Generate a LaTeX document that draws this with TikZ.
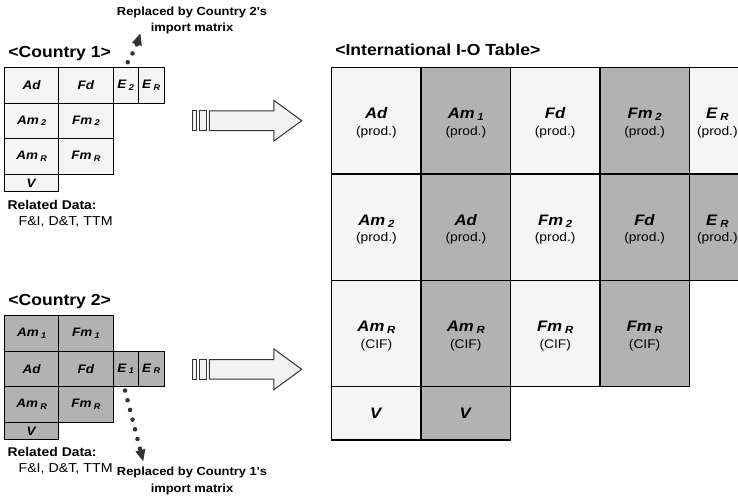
\documentclass[tikz,border=0pt]{standalone}
\usepackage{fontspec}
\setmainfont{Liberation Sans}[FakeStretch=1.1,Ligatures=TeXOff]
\usepackage{tikz}
\usetikzlibrary{arrows.meta}

\definecolor{cellpale}{RGB}{245,245,245}
\definecolor{cellgray}{RGB}{178,178,178}
\definecolor{arrowfill}{RGB}{242,242,242}

\newcommand{\iolbl}[2]{\textbf{\textit{#1}}\ifx\relax#2\relax\else\kern0.18em\raisebox{-0.25ex}{\fontsize{\the\dimexpr0.68em\relax}{0pt}\selectfont\textbf{\textit{#2}}}\fi}
\newcommand{\ionote}[1]{{\fontsize{9.4}{10}\selectfont #1}}

\begin{document}
\begin{tikzpicture}[x=0.75pt,y=0.75pt,yscale=-1,xscale=1,
  smallcell/.style={draw, line width=0.75pt, inner sep=0pt, minimum width=40.69pt, minimum height=26.625pt, font=\fontsize{9.2}{10}\selectfont},
  ecell/.style={smallcell, minimum width=19.125pt},
  vcell/.style={smallcell, minimum height=13.125pt},
  bigcell/.style={draw, line width=1pt, inner sep=0pt, align=center, minimum width=67.05pt, minimum height=79.725pt, font=\fontsize{11.4}{12.4}\selectfont},
  lastcell/.style={bigcell, minimum width=42pt},
  bigvcell/.style={bigcell, minimum height=39.975pt},
  heading/.style={anchor=base west, inner sep=0pt, font=\fontsize{12}{14}\selectfont\bfseries},
  reltitle/.style={anchor=base west, inner sep=0pt, font=\fontsize{9.5}{11}\selectfont\bfseries},
  relitems/.style={anchor=base west, inner sep=0pt, font=\fontsize{9.7}{11}\selectfont},
  replnote/.style={anchor=north, inner sep=0pt, align=center, font=\fontsize{8.8}{12.4}\selectfont\bfseries},
  dotline/.style={color=black!80, line width=3.4pt, line cap=round, dash pattern=on 0pt off 7.5pt, -{Triangle[length=9pt,width=7pt]}},
  blockarrow/.style={draw=black!80, fill=arrowfill, line width=0.75pt}]
\useasboundingbox (0,0) rectangle (738,500);
\clip (0,0) rectangle (738,500);

% Text Node
\draw (8,57.7) node [heading] (c1title) {<Country 1>};
% Text Node
\draw (8,305.5) node [heading] (c2title) {<Country 2>};
% Text Node
\draw (335,55.7) node [heading] (iotitle) {<International I-O Table>};

%Shape: Country 1 table
\draw (31.625,85.45) node [smallcell, fill=cellpale] (c1ad) {\iolbl{Ad}{}};
\draw (85.875,85.45) node [smallcell, fill=cellpale] (c1fd) {\iolbl{Fd}{}};
\draw (125.75,85.45) node [ecell, fill=cellpale] (c1e2) {\iolbl{E}{2}};
\draw (151.25,85.45) node [ecell, fill=cellpale] (c1er) {\iolbl{E}{R}};
\draw (31.625,120.95) node [smallcell, fill=cellpale] (c1am2) {\iolbl{Am}{2}};
\draw (85.875,120.95) node [smallcell, fill=cellpale] (c1fm2) {\iolbl{Fm}{2}};
\draw (31.625,156.45) node [smallcell, fill=cellpale] (c1amr) {\iolbl{Am}{R}};
\draw (85.875,156.45) node [smallcell, fill=cellpale] (c1fmr) {\iolbl{Fm}{R}};
\draw (31.625,182.95) node [vcell, fill=cellpale] (c1v) {\iolbl{V}{}};

%Shape: Country 2 table
\draw (31.625,333.45) node [smallcell, fill=cellgray] (c2am1) {\iolbl{Am}{1}};
\draw (85.875,333.45) node [smallcell, fill=cellgray] (c2fm1) {\iolbl{Fm}{1}};
\draw (31.625,368.95) node [smallcell, fill=cellgray] (c2ad) {\iolbl{Ad}{}};
\draw (85.875,368.95) node [smallcell, fill=cellgray] (c2fd) {\iolbl{Fd}{}};
\draw (125.75,368.95) node [ecell, fill=cellgray] (c2e1) {\iolbl{E}{1}};
\draw (151.25,368.95) node [ecell, fill=cellgray] (c2er) {\iolbl{E}{R}};
\draw (31.625,404.45) node [smallcell, fill=cellgray] (c2amr) {\iolbl{Am}{R}};
\draw (85.875,404.45) node [smallcell, fill=cellgray] (c2fmr) {\iolbl{Fm}{R}};
\draw (31.625,430.95) node [vcell, fill=cellgray] (c2v) {\iolbl{V}{}};

% Text Node
\draw (7.3,209) node [reltitle] (c1rel) {Related Data:};
\draw (18.3,225) node [relitems] (c1data) {F\&I, D\&T, TTM};
% Text Node
\draw (7.3,456) node [reltitle] (c2rel) {Related Data:};
\draw (18.3,472) node [relitems] (c2data) {F\&I, D\&T, TTM};

% Text Node
\draw (192,6.5) node [replnote] (c1repl) {Replaced by Country 2's\\import matrix};
% Text Node
\draw (192,467) node [replnote] (c2repl) {Replaced by Country 1's\\import matrix};

%Curve Lines: dotted pointers
\coordinate (c1tip) at (140.5,33);
\coordinate (c2tip) at (143.3,461.7);
\draw [dotline] ([xshift=1.5pt,yshift=-3.75pt]c1e2.north) to[bend left=6] (c1tip);
\draw [dotline] ([xshift=-0.5pt,yshift=2.5pt]c2e1.south) -- (c2tip);

%Shape: block arrows
\draw [blockarrow] (192.3,110.9) rectangle (196,130.5);
\draw [blockarrow] (199,110.9) rectangle (206,130.5);
\draw [blockarrow] (209.3,110.9) -- (273.8,110.9) -- (273.8,100.3) -- (301.7,120.7) -- (273.8,141.1) -- (273.8,130.5) -- (209.3,130.5) -- cycle;
\draw [blockarrow] (192.3,359.5) rectangle (196,379.1);
\draw [blockarrow] (199,359.5) rectangle (206,379.1);
\draw [blockarrow] (209.3,359.5) -- (273.8,359.5) -- (273.8,348.9) -- (301.7,369.3) -- (273.8,389.7) -- (273.8,379.1) -- (209.3,379.1) -- cycle;

%Shape: International I-O table
\draw (376.4,120.85) node [bigcell, fill=cellpale] (t11) {\rule{0pt}{11.5pt}\iolbl{Ad}{}\\\ionote{(prod.)}};
\draw (465.8,120.85) node [bigcell, fill=cellgray] (t12) {\rule{0pt}{11.5pt}\iolbl{Am}{1}\\\ionote{(prod.)}};
\draw (555.2,120.85) node [bigcell, fill=cellpale] (t13) {\rule{0pt}{11.5pt}\iolbl{Fd}{}\\\ionote{(prod.)}};
\draw (644.6,120.85) node [bigcell, fill=cellgray] (t14) {\rule{0pt}{11.5pt}\iolbl{Fm}{2}\\\ionote{(prod.)}};
\draw (717.3,120.85) node [lastcell, fill=cellpale] (t15) {\rule{0pt}{11.5pt}\iolbl{E}{R}\\\ionote{(prod.)}};

\draw (376.4,227.15) node [bigcell, fill=cellpale] (t21) {\rule{0pt}{11.5pt}\iolbl{Am}{2}\\\ionote{(prod.)}};
\draw (465.8,227.15) node [bigcell, fill=cellgray] (t22) {\rule{0pt}{11.5pt}\iolbl{Ad}{}\\\ionote{(prod.)}};
\draw (555.2,227.15) node [bigcell, fill=cellpale] (t23) {\rule{0pt}{11.5pt}\iolbl{Fm}{2}\\\ionote{(prod.)}};
\draw (644.6,227.15) node [bigcell, fill=cellgray] (t24) {\rule{0pt}{11.5pt}\iolbl{Fd}{}\\\ionote{(prod.)}};
\draw (717.3,227.15) node [lastcell, fill=cellgray] (t25) {\rule{0pt}{11.5pt}\iolbl{E}{R}\\\ionote{(prod.)}};

\draw (376.4,333.45) node [bigcell, fill=cellpale] (t31) {\rule{0pt}{11.5pt}\iolbl{Am}{R}\\\ionote{(CIF)}};
\draw (465.8,333.45) node [bigcell, fill=cellgray] (t32) {\rule{0pt}{11.5pt}\iolbl{Am}{R}\\\ionote{(CIF)}};
\draw (555.2,333.45) node [bigcell, fill=cellpale] (t33) {\rule{0pt}{11.5pt}\iolbl{Fm}{R}\\\ionote{(CIF)}};
\draw (644.6,333.45) node [bigcell, fill=cellgray] (t34) {\rule{0pt}{11.5pt}\iolbl{Fm}{R}\\\ionote{(CIF)}};

\draw (376.4,413.25) node [bigvcell, fill=cellpale] (t41) {\iolbl{V}{}};
\draw (465.8,413.25) node [bigvcell, fill=cellgray] (t42) {\iolbl{V}{}};
\end{tikzpicture}
\end{document}
